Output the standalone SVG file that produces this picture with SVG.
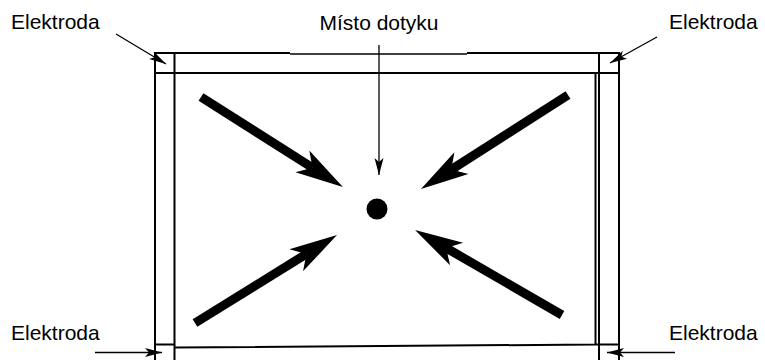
<svg xmlns="http://www.w3.org/2000/svg" width="765" height="360" viewBox="0 0 765 360">
<style>
.frame{fill:none;stroke:#000;stroke-width:2}
.thin{fill:none;stroke:#000;stroke-width:1.3}
.big{stroke:#000;stroke-width:9;stroke-linecap:butt;fill:none}
.lbl{font-family:"Liberation Sans",Arial,sans-serif;font-size:21px;fill:#000}
</style>
<defs>
<marker id="bighead" markerUnits="userSpaceOnUse" orient="auto" markerWidth="60" markerHeight="30" viewBox="-14 -15 52 30" refX="0" refY="0" overflow="visible">
<path d="M36,0 L-12,-13 L0,0 L-12,13 Z" fill="#000"/>
</marker>
<marker id="smallhead" markerUnits="userSpaceOnUse" orient="auto" markerWidth="20" markerHeight="10" viewBox="-18 -5 19 10" refX="0" refY="0" overflow="visible">
<path d="M0,0 L-17,-4.5 L-13,0 L-17,4.5 Z" fill="#000"/>
</marker>
</defs>
<rect width="765" height="360" fill="#fff"/>
<g id="panel">
<line class="frame" x1="155" y1="53" x2="290" y2="53"/>
<line class="thin" x1="290" y1="54" x2="467" y2="54"/>
<line class="frame" x1="467" y1="53" x2="620" y2="53"/>
<line class="frame" x1="155" y1="52" x2="155" y2="360"/>
<line class="frame" x1="619" y1="52" x2="619" y2="360"/>
<line class="frame" x1="599" y1="53" x2="599" y2="360"/>
<line class="frame" x1="155" y1="73" x2="619" y2="73"/>
<line class="frame" x1="155" y1="344.5" x2="174.5" y2="344.5"/>
<line class="frame" x1="596" y1="344.5" x2="619" y2="344.5"/>
<path class="frame" d="M174.5,53 L174.5,360 M174.5,347.5 L596,344.5 M595.5,73 L595.5,345"/>
</g>
<g id="touch-point">
<circle cx="377" cy="209" r="10.5" fill="#000"/>
</g>
<g id="labels">
<text class="lbl" x="11" y="29">Elektroda</text>
<text class="lbl" x="669" y="29">Elektroda</text>
<text class="lbl" x="11" y="340">Elektroda</text>
<text class="lbl" x="669" y="340">Elektroda</text>
<text class="lbl" x="379" y="30" text-anchor="middle">Místo dotyku</text>
</g>
<g id="connectors">
<line class="big" x1="201" y1="97" x2="312.5" y2="167.8" marker-end="url(#bighead)"/>
<line class="big" x1="568" y1="95" x2="451.3" y2="169.6" marker-end="url(#bighead)"/>
<line class="big" x1="195" y1="323" x2="306.4" y2="254" marker-end="url(#bighead)"/>
<line class="big" x1="562" y1="315" x2="446.2" y2="248" marker-end="url(#bighead)"/>
<line class="thin" x1="379" y1="45" x2="379" y2="175" marker-end="url(#smallhead)"/>
<line class="thin" x1="116" y1="34" x2="166" y2="64" marker-end="url(#smallhead)"/>
<line class="thin" x1="657" y1="37" x2="610" y2="63" marker-end="url(#smallhead)"/>
<line class="thin" x1="95" y1="352.5" x2="162" y2="352.5" marker-end="url(#smallhead)"/>
<line class="thin" x1="675" y1="352.5" x2="607" y2="352.5" marker-end="url(#smallhead)"/>
</g>
</svg>
